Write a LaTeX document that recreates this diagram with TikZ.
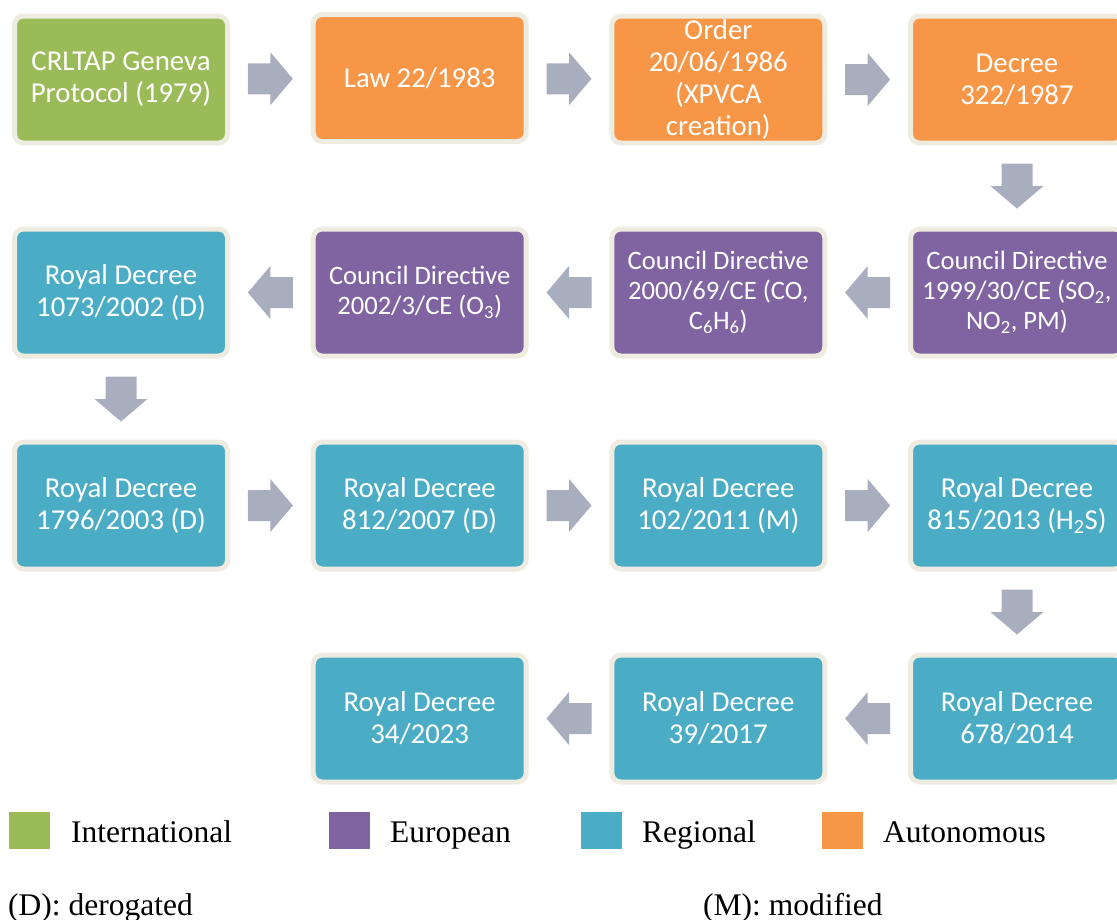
\documentclass[tikz,border=0pt]{standalone}
\usepackage{fontspec}
\setmainfont{Carlito}
\newfontfamily\legendfont{Liberation Serif}
\usetikzlibrary{calc}
\definecolor{cIntl}{HTML}{9BBB59}
\definecolor{cAuto}{HTML}{F79646}
\definecolor{cEuro}{HTML}{8064A2}
\definecolor{cRegio}{HTML}{4BACC6}
\definecolor{cRim}{HTML}{EEECE1}
\definecolor{cArrow}{HTML}{A8AEBD}
\tikzset{
  lawbox/.style={draw=cRim, line width=5pt, rounded corners=9pt,
    minimum width=213pt, minimum height=127pt, inner sep=0pt,
    text=white, align=center, font=\fontsize{28.8}{32}\selectfont},
  intlbox/.style={lawbox, fill=cIntl},
  autobox/.style={lawbox, fill=cAuto},
  regbox/.style={lawbox, fill=cRegio},
  eurobox/.style={lawbox, fill=cEuro, font=\fontsize{26.6}{30}\selectfont},
  blockarrow/.pic={\fill[cArrow] (-22.5,-15.5) -- (0,-15.5) -- (0,-26.5)
     -- (22.5,0) -- (0,26.5) -- (0,15.5) -- (-22.5,15.5) -- cycle;},
  legsq/.style={minimum width=41pt, minimum height=37pt, inner sep=0pt, draw=none},
  legtext/.style={font=\legendfont\fontsize{31.5}{36}\selectfont, inner sep=0pt, anchor=base west},
}
\begin{document}
\begin{tikzpicture}[x=1pt, y=-1pt]
\useasboundingbox (0,0) rectangle (1117,919);
% row 1
\node[intlbox] (a1) at (121,79.5) {CRLTAP Geneva\\Protocol (1979)};
\node[autobox] (a2) at (419.7,78) {Law 22/1983};
\node[autobox] (a3) at (718.3,79.5) {Order\\20/06/1986\\(XPVCA\\creation)};
\node[autobox] (a4) at (1017,79.5) {Decree\\322/1987};
% row 2
\node[eurobox] (b4) at (1017,292.5) {Council Directive\\1999/30/CE (SO\textsubscript{2},\\NO\textsubscript{2}, PM)};
\node[eurobox] (b3) at (718.3,292.5) {Council Directive\\2000/69/CE (CO,\\C\textsubscript{6}H\textsubscript{6})};
\node[eurobox] (b2) at (419.7,292.5) {Council Directive\\2002/3/CE (O\textsubscript{3})};
\node[regbox] (b1) at (121,292.5) {Royal Decree\\1073/2002 (D)};
% row 3
\node[regbox] (c1) at (121,505.5) {Royal Decree\\1796/2003 (D)};
\node[regbox] (c2) at (419.7,505.5) {Royal Decree\\812/2007 (D)};
\node[regbox] (c3) at (718.3,505.5) {Royal Decree\\102/2011 (M)};
\node[regbox] (c4) at (1017,505.5) {Royal Decree\\815/2013 (H\textsubscript{2}S)};
% row 4
\node[regbox] (d4) at (1017,718.5) {Royal Decree\\678/2014};
\node[regbox] (d3) at (718.3,718.5) {Royal Decree\\39/2017};
\node[regbox] (d2) at (419.7,718.5) {Royal Decree\\34/2023};
% arrows
\pic at ($(a1.east)!0.5!(a2.west)$) {blockarrow};
\pic at ($(a2.east)!0.5!(a3.west)$) {blockarrow};
\pic at ($(a3.east)!0.5!(a4.west)$) {blockarrow};
\pic[rotate=-90] at ($(a4.south)!0.5!(b4.north)$) {blockarrow};
\pic[rotate=180] at ($(b4.west)!0.5!(b3.east)$) {blockarrow};
\pic[rotate=180] at ($(b3.west)!0.5!(b2.east)$) {blockarrow};
\pic[rotate=180] at ($(b2.west)!0.5!(b1.east)$) {blockarrow};
\pic[rotate=-90] at ($(b1.south)!0.5!(c1.north)$) {blockarrow};
\pic at ($(c1.east)!0.5!(c2.west)$) {blockarrow};
\pic at ($(c2.east)!0.5!(c3.west)$) {blockarrow};
\pic at ($(c3.east)!0.5!(c4.west)$) {blockarrow};
\pic[rotate=-90] at ($(c4.south)!0.5!(d4.north)$) {blockarrow};
\pic[rotate=180] at ($(d4.west)!0.5!(d3.east)$) {blockarrow};
\pic[rotate=180] at ($(d3.west)!0.5!(d2.east)$) {blockarrow};
% legend
\node[legsq, fill=cIntl] (s1) at (29.5,830.5) {};
\node[legsq, fill=cEuro] (s2) at (349.5,830.5) {};
\node[legsq, fill=cRegio] (s3) at (601.5,830.5) {};
\node[legsq, fill=cAuto] (s4) at (842.5,830.5) {};
\node[legtext] (t1) at (71,842) {International};
\node[legtext] (t2) at (390,842) {European};
\node[legtext] (t3) at (642,842) {Regional};
\node[legtext] (t4) at (883,842) {Autonomous};
\node[legtext] (n1) at (8,915) {(D): derogated};
\node[legtext] (n2) at (703,915) {(M): modified};
\end{tikzpicture}
\end{document}
